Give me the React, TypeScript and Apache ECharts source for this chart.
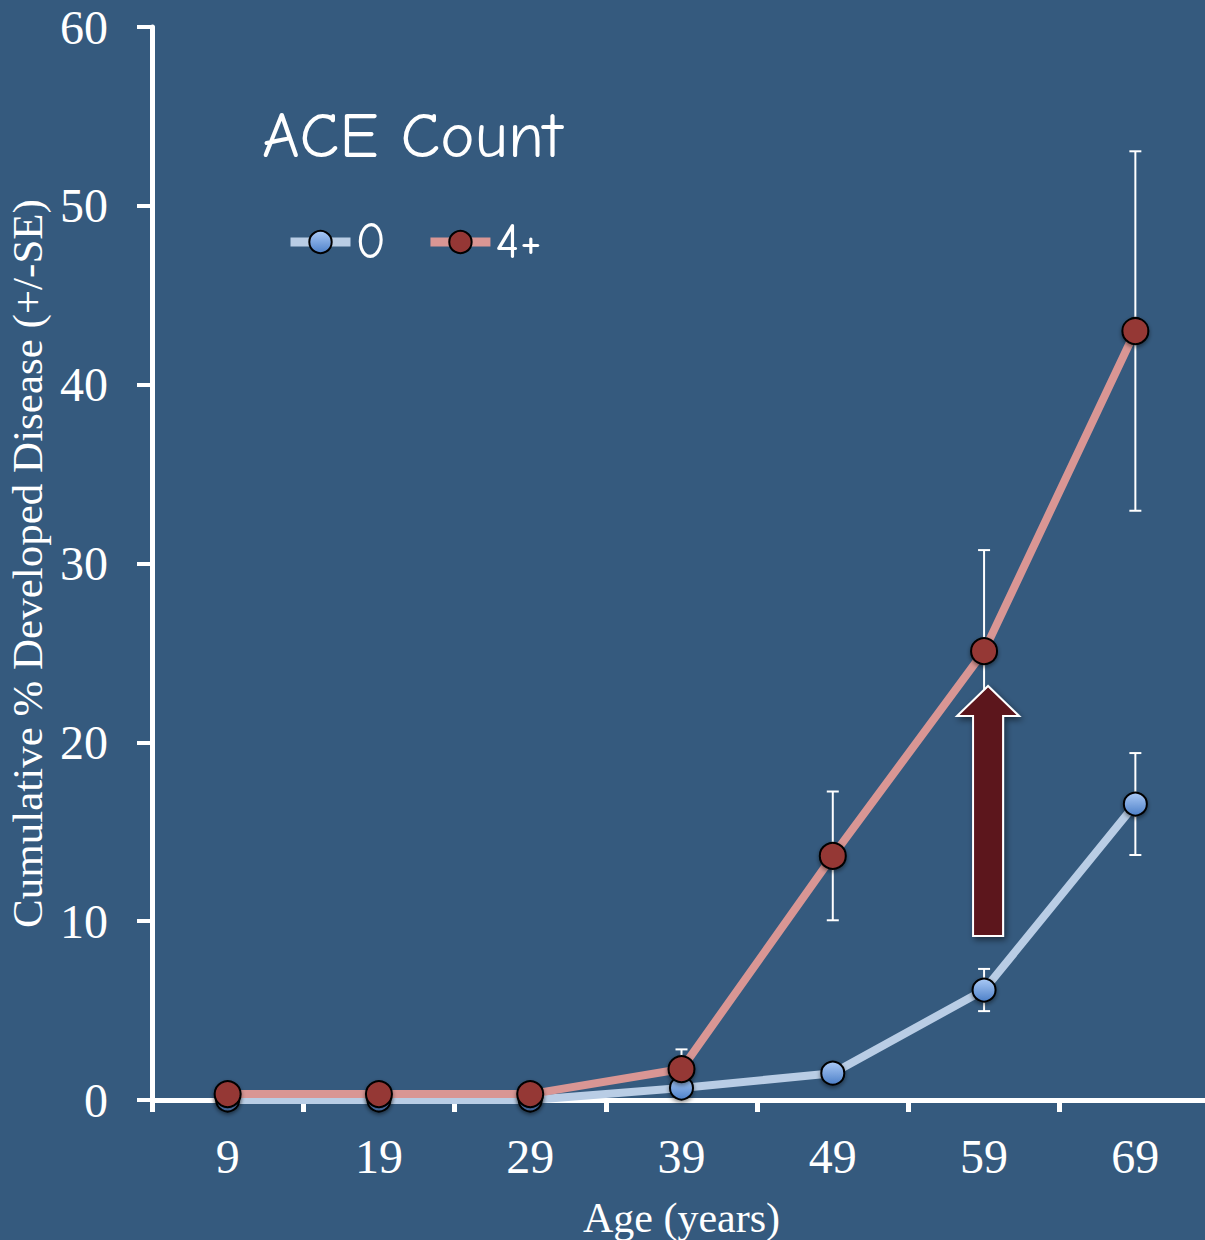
import React, { useEffect, useRef } from 'react';
import * as echarts from 'echarts';

const AGES = ['9', '19', '29', '39', '49', '59', '69'];
const ACE0 = [0, 0, 0, 0.67, 1.5, 6.15, 16.55];
const ACE0_SE = [0, 0, 0, 0.4, 0.5, 1.18, 2.85];
const ACE4 = [0.33, 0.33, 0.33, 1.73, 13.65, 25.1, 43.0];
const ACE4_SE = [0.3, 0.3, 0.3, 1.1, 3.6, 5.65, 10.05];
const Y_MIN = 0;
const Y_MAX = 60;
const Y_INTERVAL = 10;
const ARROW = { age: '59', from: 9.17, to: 23.15 };

const BG = '#355a7e';
const SERIF = '"Liberation Serif", "Times New Roman", Times, serif';
const COMIC = '"Comic Sans MS", "Comic Neue", "Open Sans", sans-serif';

function errData(vals: number[], se: number[]) {
  return vals
    .map((v, i) => [i, v - se[i], v + se[i], se[i]])
    .filter((d) => d[3] > 0);
}

function errorSeries(name: string, vals: number[], se: number[]) {
  return {
    type: 'custom',
    name: name + ' SE',
    z: 1,
    silent: true,
    data: errData(vals, se),
    renderItem: (params: any, api: any) => {
      const x = api.value(0);
      const lo = api.value(1);
      const hi = api.value(2);
      const pHi = api.coord([x, hi]);
      const pLo = api.coord([x, lo]);
      const cap = 6;
      const style = { stroke: '#ffffff', lineWidth: 2 };
      return {
        type: 'group',
        children: [
          { type: 'line', shape: { x1: pHi[0], y1: pHi[1], x2: pLo[0], y2: pLo[1] }, style },
          { type: 'line', shape: { x1: pHi[0] - cap, y1: pHi[1], x2: pHi[0] + cap, y2: pHi[1] }, style },
          { type: 'line', shape: { x1: pLo[0] - cap, y1: pLo[1], x2: pLo[0] + cap, y2: pLo[1] }, style },
        ],
      };
    },
  };
}

export default function App() {
  const ref = useRef<HTMLDivElement>(null);
  useEffect(() => {
    document.body.style.margin = '0';
    document.body.style.background = BG;
    if (!ref.current) return;
    const chart = echarts.init(ref.current, undefined, { renderer: 'svg' });
    const blueFill = new echarts.graphic.LinearGradient(0, 0, 0, 1, [
      { offset: 0, color: '#abcaf6' },
      { offset: 1, color: '#4d80c8' },
    ]);
    const markerShadow = {
      shadowBlur: 4,
      shadowColor: 'rgba(0,0,0,0.45)',
      shadowOffsetY: 2,
    };
    chart.setOption({
      animation: false,
      backgroundColor: BG,
      title: {
        text: 'ACE Count',
        left: 257,
        top: 98,
        textStyle: { color: '#ffffff', fontSize: 65, fontWeight: 'normal', fontFamily: COMIC },
      },
      legend: {
        left: 281,
        top: 212,
        itemWidth: 60,
        itemHeight: 28,
        itemGap: 40,
        data: ['0', '4+'],
        lineStyle: { width: 9 },
        textStyle: { color: '#ffffff', fontSize: 50, fontFamily: COMIC },
      },
      grid: { left: 152, top: 27, width: 1059, height: 1073, outerBoundsMode: 'none', containLabel: false },
      xAxis: {
        type: 'category',
        data: AGES,
        boundaryGap: true,
        name: 'Age (years)',
        nameLocation: 'middle',
        nameGap: 97,
        nameTextStyle: { color: '#ffffff', fontSize: 42, fontFamily: SERIF },
        axisLine: { lineStyle: { color: '#ffffff', width: 5 } },
        axisTick: { show: true, alignWithLabel: false, length: 12, lineStyle: { color: '#ffffff', width: 5 } },
        axisLabel: { color: '#ffffff', fontSize: 48, fontFamily: SERIF, margin: 32 },
        splitLine: { show: false },
      },
      yAxis: {
        type: 'value',
        min: Y_MIN,
        max: Y_MAX,
        interval: Y_INTERVAL,
        name: 'Cumulative % Developed Disease (+/-SE)',
        nameLocation: 'middle',
        nameGap: 94,
        nameRotate: 90,
        nameTextStyle: { color: '#ffffff', fontSize: 43, fontFamily: SERIF },
        axisLine: { show: true, lineStyle: { color: '#ffffff', width: 5 } },
        axisTick: { show: true, length: 15, lineStyle: { color: '#ffffff', width: 4 } },
        axisLabel: { color: '#ffffff', fontSize: 48, fontFamily: SERIF, margin: 44 },
        splitLine: { show: false },
      },
      series: [
        errorSeries('0', ACE0, ACE0_SE),
        errorSeries('4+', ACE4, ACE4_SE),
        {
          type: 'line',
          name: '0',
          z: 3,
          data: ACE0,
          symbol: 'circle',
          symbolSize: 23,
          lineStyle: { color: '#b9cde5', width: 8 },
          itemStyle: { color: blueFill, borderColor: '#000000', borderWidth: 2, ...markerShadow },
        },
        {
          type: 'line',
          name: '4+',
          z: 4,
          data: ACE4,
          symbol: 'circle',
          symbolSize: 26,
          lineStyle: { color: '#d99694', width: 8 },
          itemStyle: { color: '#953735', borderColor: '#000000', borderWidth: 2, ...markerShadow },
        },
      ],
    });
    const idx = AGES.indexOf(ARROW.age);
    const pTo = chart.convertToPixel({ gridIndex: 0 }, [idx, ARROW.to]) as number[];
    const pFrom = chart.convertToPixel({ gridIndex: 0 }, [idx, ARROW.from]) as number[];
    const cx = pTo[0] + 4;
    const yTo = pTo[1];
    const yFrom = pFrom[1];
    const shaft = 15;
    const head = 31;
    const headH = 30;
    chart.setOption({
      graphic: [
        {
          type: 'polygon',
          z: 10,
          shape: {
            points: [
              [cx, yTo],
              [cx + head, yTo + headH],
              [cx + shaft, yTo + headH],
              [cx + shaft, yFrom],
              [cx - shaft, yFrom],
              [cx - shaft, yTo + headH],
              [cx - head, yTo + headH],
            ],
          },
          style: {
            fill: '#5c141a',
            stroke: '#ffffff',
            lineWidth: 2,
            shadowBlur: 6,
            shadowColor: 'rgba(0,0,0,0.5)',
            shadowOffsetX: 2,
            shadowOffsetY: 3,
          },
        },
      ],
    });
    return () => chart.dispose();
  }, []);
  return <div ref={ref} style={{ width: 1205, height: 1240 }} />;
}
